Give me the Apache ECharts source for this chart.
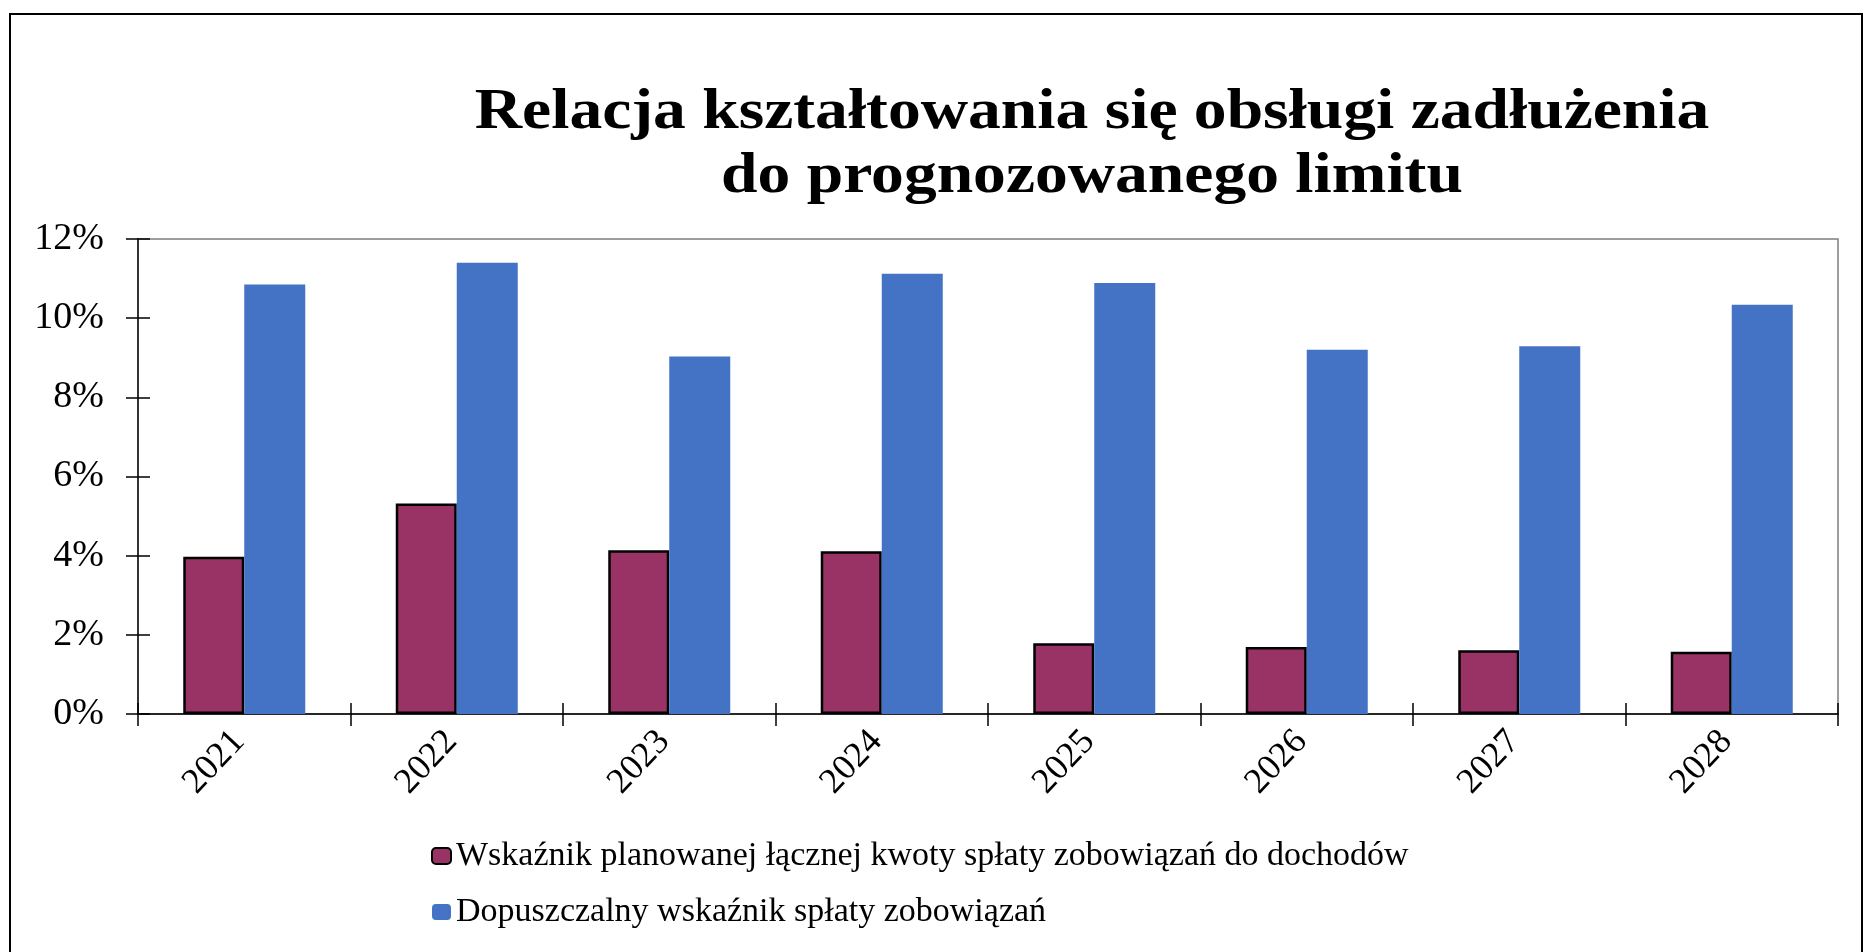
<!DOCTYPE html>
<html>
<head>
<meta charset="utf-8">
<script src="https://cdn.jsdelivr.net/npm/echarts@6/dist/echarts.min.js"></script>
<style>
html, body { margin: 0; padding: 0; background: #fff; }
#chart { width: 1865px; height: 952px; }
</style>
</head>
<body>
<div id="chart"></div>
<script>
const titleLines = ['Relacja kształtowania się obsługi zadłużenia', 'do prognozowanego limitu'];
const categories = ['2021', '2022', '2023', '2024', '2025', '2026', '2027', '2028'];
const seriesNames = [
  'Wskaźnik planowanej łącznej kwoty spłaty zobowiązań do dochodów',
  'Dopuszczalny wskaźnik spłaty zobowiązań'
];
const planValues = [3.97, 5.32, 4.14, 4.11, 1.79, 1.69, 1.61, 1.57];
const limitValues = [10.85, 11.40, 9.03, 11.12, 10.89, 9.20, 9.29, 10.34];
const yMin = 0, yMax = 12, yInterval = 2;

const FONT = '"Liberation Serif", "Times New Roman", serif';
const chart = echarts.init(document.getElementById('chart'));

const yBase = {
  type: 'value', min: yMin, max: yMax, interval: yInterval, gridIndex: 0,
  splitLine: { show: false }
};

chart.setOption({
  animation: false,
  backgroundColor: '#fff',
  graphic: [
    { type: 'rect', shape: { x: 10, y: 14, width: 1852, height: 990 },
      style: { fill: 'none', stroke: '#000', lineWidth: 2 }, z: 0 },
    { type: 'text', x: 1092, y: 113, scaleX: 1.15,
      style: { text: titleLines[0], fontFamily: FONT, fontWeight: 'bold', fontSize: 57,
               fill: '#000', textAlign: 'center', textVerticalAlign: 'middle' } },
    { type: 'text', x: 1092, y: 177, scaleX: 1.15,
      style: { text: titleLines[1], fontFamily: FONT, fontWeight: 'bold', fontSize: 57,
               fill: '#000', textAlign: 'center', textVerticalAlign: 'middle' } }
  ],
  grid: {
    left: 138, right: 27, top: 239, bottom: 238,
    show: true, borderColor: '#7f7f7f', borderWidth: 1.5, backgroundColor: '#fff'
  },
  legend: {
    orient: 'vertical',
    left: 426, top: 834,
    itemWidth: 19, itemHeight: 16, itemGap: 22,
    data: seriesNames,
    textStyle: { fontFamily: FONT, fontSize: 34, color: '#000' }
  },
  xAxis: [
    {
      type: 'category', data: categories, gridIndex: 0, position: 'bottom',
      axisLine: { show: true, lineStyle: { color: '#000', width: 1.5 } },
      axisTick: { show: true, length: 12, lineStyle: { color: '#000', width: 1.5 } },
      axisLabel: { rotate: 47, margin: 16, padding: [0, 8, 0, 0],
                   fontFamily: FONT, fontSize: 36, color: '#000' }
    },
    {
      type: 'category', data: categories, gridIndex: 0, position: 'bottom',
      axisLine: { show: false },
      axisTick: { show: true, inside: true, length: 11, lineStyle: { color: '#000', width: 1.5 } },
      axisLabel: { show: false }
    }
  ],
  yAxis: [
    Object.assign({}, yBase, {
      position: 'left',
      axisLine: { show: true, lineStyle: { color: '#333', width: 2 } },
      axisTick: { show: true, length: 12, lineStyle: { color: '#000', width: 1.5 } },
      axisLabel: { formatter: '{value}%', margin: 34, fontFamily: FONT, fontSize: 38, color: '#000' }
    }),
    Object.assign({}, yBase, {
      position: 'left',
      axisLine: { show: false },
      axisTick: { show: true, inside: true, length: 12, lineStyle: { color: '#000', width: 1.5 } },
      axisLabel: { show: false }
    })
  ],
  series: [
    {
      name: seriesNames[0], type: 'bar', data: planValues,
      xAxisIndex: 0, yAxisIndex: 0,
      barWidth: 61, barGap: '0%',
      itemStyle: { color: '#993366', borderColor: '#000', borderWidth: 2.5 }
    },
    {
      name: seriesNames[1], type: 'bar', data: limitValues,
      xAxisIndex: 0, yAxisIndex: 0,
      barWidth: 61, barGap: '0%',
      itemStyle: { color: '#4472C4' }
    }
  ]
});
</script>
</body>
</html>
